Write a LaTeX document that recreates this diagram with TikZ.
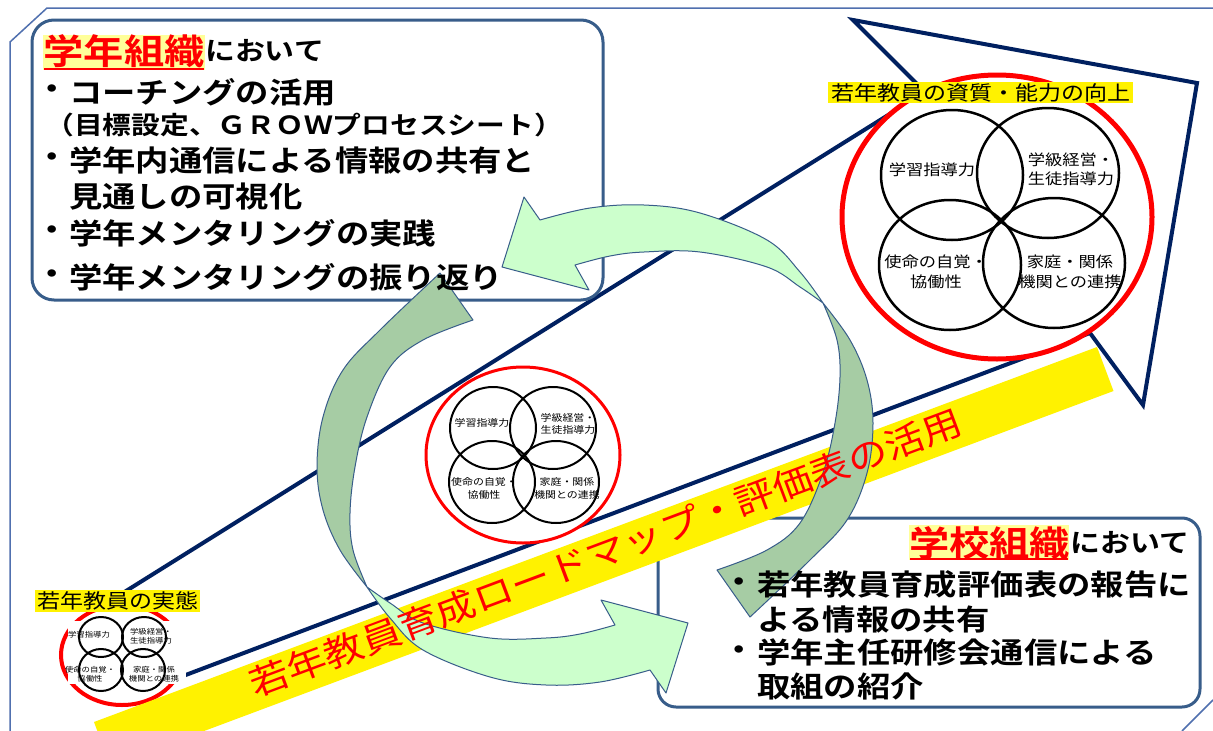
\documentclass[tikz,border=0pt]{standalone}
\usepackage{fontspec}
\setmainfont{Noto Sans CJK JP}[BoldFont={Noto Sans CJK JP Bold}]
\definecolor{navy}{RGB}{0,32,96}
\definecolor{frameblue}{RGB}{80,112,175}
\definecolor{boxblue}{RGB}{56,93,138}
\definecolor{lightgreen}{RGB}{204,255,204}
\definecolor{darkgreen}{RGB}{166,204,164}
\definecolor{paleyellow}{RGB}{255,255,153}
\tikzset{
  navyline/.style={draw=navy, line width=4pt, line join=miter},
  frameline/.style={draw=frameblue, line width=1.5pt},
  roundbox/.style={draw=boxblue, line width=3pt, fill=white},
  redring/.style={draw=red, fill=white},
  venncircle/.style={draw=black},
  garrowline/.style={draw=boxblue, line width=1pt, line join=round},
  jp/.style={inner sep=0pt, xscale=1.15},
  fs/.style={font=\fontsize{#1}{#1}\selectfont},
  fsb/.style={font=\fontsize{#1}{#1}\selectfont\bfseries},
  fsl/.style n args={2}{font=\fontsize{#1}{#2}\selectfont, align=center},
  labelbar/.style={fill=yellow, inner sep=0pt, xscale=1.15},
  bannertext/.style={inner sep=0pt, rotate=20.5, xscale=1.14, font=\fontsize{35}{35}\selectfont, text=red},
}
\newcommand\GArrowShape{%
  \filldraw[garrowline, fill=lightgreen] (540,220) -- (524,197) -- (502,267) -- (589,290) -- (575,265)
    -- plot[smooth, tension=0.6] coordinates {(575,265) (610,256) (644,252) (700,252) (767,267) (800,287) (823,303)}
    -- plot[smooth, tension=0.6] coordinates {(823,303) (800,272) (767,240) (700,213) (644,205) (590,208) (540,220)}
    -- cycle;
  \filldraw[garrowline, fill=darkgreen] (823,303)
    -- plot[smooth, tension=0.6] coordinates {(823,303) (850,340) (867,380) (873,423) (867,473) (847,520) (810,560) (750,617)}
    -- (717,570)
    -- plot[smooth, tension=0.6] coordinates {(717,570) (767,550) (800,523) (823,473) (835,423) (840,377) (837,340) (823,303)}
    -- cycle;
}
\begin{document}
\begin{tikzpicture}[x=1pt,y=-1pt]
\useasboundingbox (0,0) rectangle (1213,731);
\clip (0,0) rectangle (1213,731);
\fill[white] (0,0) rectangle (1213,731);
% outer frame
\coordinate (f1) at (10,731); \coordinate (f2) at (10,42);
\coordinate (f3) at (47,8); \coordinate (f4) at (1213,8);
\coordinate (f5) at (1182,731); \coordinate (f6) at (1213,700);
\draw[frameline] (f1) -- (f2) -- (f3) -- (f4);
\draw[frameline] (f5) -- (f6);
% big navy arrow
\coordinate (a1) at (183,676); \coordinate (a2) at (1090,333);
\coordinate (a3) at (1143,405); \coordinate (a4) at (1197,83);
\coordinate (a5) at (853,20); \coordinate (a6) at (925,92);
\coordinate (a7) at (110,601);
\draw[navyline] (a1) -- (a2) -- (a3) -- (a4) -- (a5) -- (a6) -- (a7);
% middle venn
\draw[redring, line width=3pt] (523,455) ellipse [x radius=97, y radius=88];
\draw[venncircle, line width=2pt] (493,428) ellipse [x radius=43, y radius=41];
\draw[venncircle, line width=2pt] (553,428) ellipse [x radius=43, y radius=41];
\draw[venncircle, line width=2pt] (492,482) ellipse [x radius=43, y radius=41];
\draw[venncircle, line width=2pt] (556,482) ellipse [x radius=43, y radius=41];
\node[jp, fs=9.5] (m1) at (482,423) {学習指導力};
\node[jp, fsl={9.5}{12}] (m2) at (568,424) {学級経営・\\生徒指導力};
\node[jp, fsl={9.5}{13}] (m3) at (484,488.5) {使命の自覚・\\協働性};
\node[jp, fsl={9.5}{13}] (m4) at (567,488.5) {家庭・関係\\機関との連携};
% big venn
\draw[redring, line width=5pt] (997,217) ellipse [x radius=155, y radius=142];
\draw[venncircle, line width=2.5pt] (952,175) ellipse [x radius=71, y radius=65];
\draw[venncircle, line width=2.5pt] (1048,173) ellipse [x radius=71, y radius=65];
\draw[venncircle, line width=2.5pt] (950,265) ellipse [x radius=71, y radius=65];
\draw[venncircle, line width=2.5pt] (1054,263) ellipse [x radius=71, y radius=65];
\node[jp, fs=15] (b1) at (932,170) {学習指導力};
\node[jp, fsl={15}{19}] (b2) at (1071,169.5) {学級経営・\\生徒指導力};
\node[jp, fsl={15}{20}] (b3) at (936,272) {使命の自覚・\\協働性};
\node[jp, fsl={15}{20}] (b4) at (1070,272) {家庭・関係\\機関との連携};
\node[labelbar, fs=20, minimum width=265, minimum height=21] (blabel) at (980.5,92.5) {若年教員の資質・能力の向上};
% small venn
\draw[redring, line width=4pt] (122,655) ellipse [x radius=61, y radius=50];
\fill[white] (68,621) rectangle (186,684);
\draw[venncircle, line width=2pt] (101,637) ellipse [x radius=22, y radius=20];
\draw[venncircle, line width=2pt] (144,637) ellipse [x radius=22, y radius=20];
\draw[venncircle, line width=2pt] (101,670) ellipse [x radius=22, y radius=21];
\draw[venncircle, line width=2pt] (143,670) ellipse [x radius=22, y radius=21];
\node[jp, fs=7.3] (s1) at (89,635) {学習指導力};
\node[jp, fsl={7.3}{9}] (s2) at (151,636.5) {学級経営・\\生徒指導力};
\node[jp, fsl={7.3}{8.5}] (s3) at (90,674) {使命の自覚・\\協働性};
\node[jp, fsl={7.3}{8.5}] (s4) at (154,674) {家庭・関係\\機関との連携};
\node[labelbar, fs=20, minimum width=143.5, minimum height=22] (slabel) at (117.5,601) {若年教員の実態};
% boxes
\node[roundbox, rounded corners=22pt, minimum width=571, minimum height=280] (tlbox) at (317.5,160) {};
\node[roundbox, rounded corners=18pt, minimum width=542, minimum height=189] (brbox) at (929,612.5) {};
% banner
\coordinate (y1) at (94,722); \coordinate (y2) at (1097,347);
\coordinate (y3) at (1113.5,391); \coordinate (y4) at (110.5,766);
\fill[yellow] (y1) -- (y2) -- (y3) -- (y4) -- cycle;
% green circular arrows
\GArrowShape
\begin{scope}[rotate around={180:(595,445)}]
\GArrowShape
\end{scope}
% banner text
\node[bannertext] (bt) at (605.5,552.5) {若年教員育成ロードマップ・評価表の活用};
% top-left box text
\fill[paleyellow] (43,35) rectangle (205,70);
\node[jp, fsb=35, text=red, anchor=west] (t0) at (43.5,51) {学年組織};
\draw[red, line width=2pt] (44,68.5) -- (204,68.5);
\node[jp, fsb=26, anchor=west] (t0b) at (t0.east) {において};
\node[jp, fsb=29] (tb1) at (52,92) {・};
\node[jp, fsb=29, anchor=west] (t1) at (69,92) {コーチングの活用};
\node[jp, fsb=25] (t2) at (304,125) {（目標設定、ＧＲＯＷプロセスシート）};
\node[jp, fsb=29] (tb3) at (52,160) {・};
\node[jp, fsb=29, anchor=west] (t3) at (69,160) {学年内通信による情報の共有と};
\node[jp, fsb=29, anchor=west] (t4) at (69,197) {見通しの可視化};
\node[jp, fsb=29] (tb5) at (52,233) {・};
\node[jp, fsb=29, anchor=west] (t5) at (69,233) {学年メンタリングの実践};
\node[jp, fsb=29] (tb6) at (52,277) {・};
\node[jp, fsb=29, anchor=west] (t6) at (69,277) {学年メンタリングの振り返り};
% bottom-right box text
\fill[paleyellow] (909,525) rectangle (1069,560);
\node[jp, fsb=35, text=red, anchor=west] (r0) at (909,543) {学校組織};
\draw[red, line width=2pt] (910,558.5) -- (1068,558.5);
\node[jp, fsb=26, anchor=west] (r0b) at (r0.east) {において};
\node[jp, fsb=29] (rb1) at (739,585) {・};
\node[jp, fsb=29, anchor=west] (r1) at (757,585) {若年教員育成評価表の報告に};
\node[jp, fsb=29, anchor=west] (r2) at (757,620) {よる情報の共有};
\node[jp, fsb=29] (rb3) at (739,653) {・};
\node[jp, fsb=29, anchor=west] (r3) at (757,653) {学年主任研修会通信による};
\node[jp, fsb=29, anchor=west] (r4) at (757,686) {取組の紹介};
\end{tikzpicture}
\end{document}
